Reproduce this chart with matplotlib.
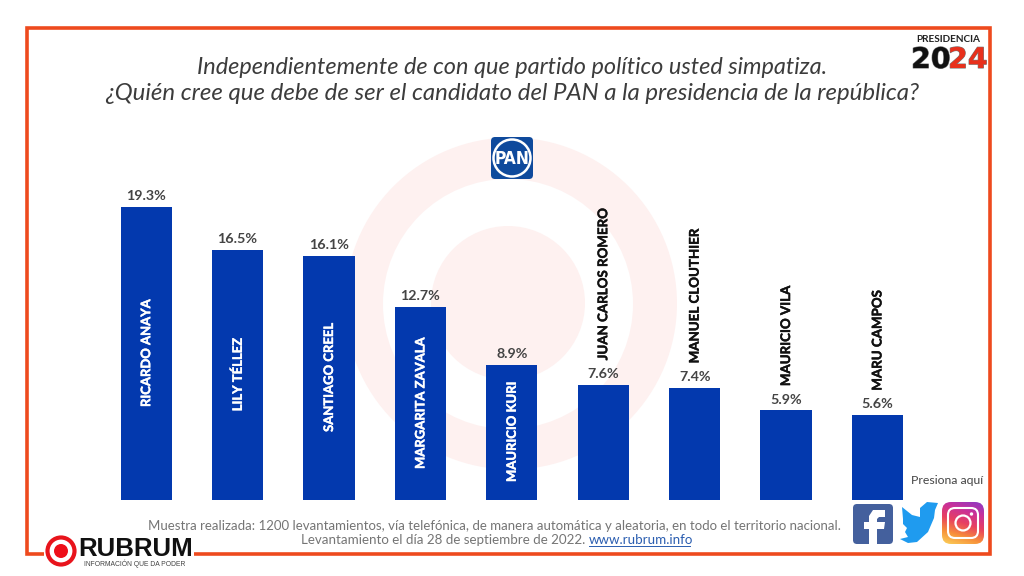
import numpy as np
import matplotlib
matplotlib.use("Agg")
import matplotlib.pyplot as plt
import matplotlib.patheffects as pe
from matplotlib.colors import LinearSegmentedColormap
from matplotlib.patches import Circle, FancyBboxPatch, Rectangle, Polygon

candidates = ["RICARDO ANAYA", "LILY TÉLLEZ", "SANTIAGO CREEL", "MARGARITA ZAVALA", "MAURICIO KURI",
              "JUAN CARLOS ROMERO", "MANUEL CLOUTHIER", "MAURICIO VILA", "MARU CAMPOS"]
values = [19.3, 16.5, 16.1, 12.7, 8.9, 7.6, 7.4, 5.9, 5.6]
inside_bar = [True, True, True, True, True, False, False, False, False]
title_lines = ["Independientemente de con que partido político usted simpatiza.",
               "¿Quién cree que debe de ser el candidato del PAN a la presidencia de la república?"]
note_1 = "Muestra realizada: 1200 levantamientos, vía telefónica, de manera automática y aleatoria, en todo el territorio nacional."
note_2 = "Levantamiento el día 28 de septiembre de 2022. "
note_link = "www.rubrum.info"

W, H = 1024, 576
BAR = "#0339ae"
ORANGE = "#ee4a1e"
plt.rcParams['font.family'] = ['Lato', 'DejaVu Sans']
fig = plt.figure(figsize=(W / 100, H / 100), dpi=100, facecolor="white")

# pixel overlay for decoration
bg = fig.add_axes([0, 0, 1, 1], zorder=0)
bg.set_xlim(0, W); bg.set_ylim(H, 0); bg.axis("off")
bg.add_patch(Circle((511, 303.5), 166, fc="#fef1f0", ec="none"))
bg.add_patch(Circle((508, 304), 125, fc="#ffffff", ec="none"))
bg.add_patch(Circle((508, 303), 77, fc="#fef1f0", ec="none"))
bg.add_patch(Rectangle((27, 28), 963, 526, fc="none", ec=ORANGE, lw=2.6))

# bars
ax = fig.add_axes([100 / W, 1 - 500 / H, 825 / W, 330 / H], zorder=2)
ax.patch.set_alpha(0); ax.axis("off")
x = list(range(len(values)))
ax.set_xlim(-0.505, 8.52)
ax.set_ylim(0, 330 / 15.18)
ax.bar(x, values, width=0.56, color=BAR)
for i, (v, n, ins) in enumerate(zip(values, candidates, inside_bar)):
    ax.annotate(f"{v}%", (i, v), xytext=(0, 3.5), textcoords="offset points", ha="center", va="bottom",
                fontsize=10.3, fontweight="bold", color="#444444")
    if ins:
        ax.annotate(n, (i, v / 2), ha="center", va="center", rotation=90, fontsize=9.4,
                    fontweight="bold", color="white",
                    path_effects=[pe.withStroke(linewidth=0.3, foreground="white")])
    else:
        ax.annotate(n, (i, v), xytext=(0, 17.5), textcoords="offset points", ha="center", va="bottom",
                    rotation=90, fontsize=9.6, fontweight="bold", color="#111111",
                    path_effects=[pe.withStroke(linewidth=0.3, foreground="#111111")])

# overlay text and logos
top = fig.add_axes([0, 0, 1, 1], zorder=3)
top.patch.set_alpha(0)
top.text(512, 68, title_lines[0], ha="center", va="center", fontsize=16.95, style="italic", color="#3c3c3c")
top.text(512, 93, title_lines[1], ha="center", va="center", fontsize=17.25, style="italic", color="#3c3c3c")
top.text(841, 526, note_1, ha="right", va="center", fontsize=9.5, color="#757575")
top.text(589, 540, note_2, ha="right", va="center", fontsize=9.6, color="#757575")
top.text(589, 540, note_link, ha="left", va="center", fontsize=9.6, color="#2a5db0")
top.plot([589, 690], [546, 546], color="#2a5db0", lw=0.7)
top.text(947, 481, "Presiona aquí", ha="center", va="center", fontsize=8.8, color="#444444")

# PAN logo
top.add_patch(FancyBboxPatch((491, 137), 42, 42, boxstyle="round,pad=0,rounding_size=4", fc="#0f4a9c", ec="none"))
top.add_patch(Circle((512, 158), 18.5, fc="none", ec="white", lw=1.8))
top.text(512, 158.5, "PAN", ha="center", va="center", fontsize=12.5, fontweight="bold", color="white",
         family="DejaVu Sans", stretch="condensed")

# PRESIDENCIA 2024
shadow = [pe.withStroke(linewidth=0.8, foreground="#777777")]
top.text(948.5, 40, "PRESIDENCIA", ha="center", va="center", fontsize=7.2, fontweight="bold", color="#222222")
top.text(911, 60, "20", ha="left", va="center", fontsize=20.5, fontweight="bold", color="#111111",
         family="DejaVu Sans", path_effects=shadow)
top.text(948, 60, "24", ha="left", va="center", fontsize=20.5, fontweight="bold", color="#e8301c",
         family="DejaVu Sans", path_effects=shadow)

# RUBRUM logo
top.add_patch(Rectangle((44, 535), 150, 31, fc="white", ec="none"))
top.add_patch(Circle((61, 551), 13.5, fc="white", ec="#e8141c", lw=3))
top.add_patch(Circle((61, 551), 7, fc="#ee0f1a", ec="none"))
top.text(78, 555.5, "RUBRUM", ha="left", va="baseline", fontsize=18.6, fontweight="bold", color="#111111", family="Liberation Sans")
top.text(84, 563.5, "INFORMACIÓN QUE DA PODER", ha="left", va="center", fontsize=4.9, color="#444444", family="Liberation Sans")

# facebook
top.add_patch(FancyBboxPatch((853, 504), 40, 40, boxstyle="round,pad=0,rounding_size=4", fc="#44609d", ec="none"))
top.add_patch(Polygon([(869, 544), (869, 529), (864, 529), (864, 522), (869, 522), (869, 516), (873, 510),
                       (885, 510), (885, 517), (879, 517), (877, 519), (877, 522), (885, 522), (884, 529),
                       (877, 529), (877, 544)], fc="white", ec="none"))

# twitter
top.add_patch(Polygon([(927, 502), (938, 503), (935, 510), (934, 518), (928, 532), (917, 542), (908, 543),
                       (900, 539), (908, 537), (905, 532), (907, 528), (903, 524), (903, 519), (902, 507),
                       (912, 515), (920, 517), (920, 508)], fc="#1f9bef", ec="none", joinstyle="round"))

# instagram
insta_box = FancyBboxPatch((942, 502), 42, 42, boxstyle="round,pad=0,rounding_size=9", fc="none", ec="none")
top.add_patch(insta_box)
yy, xx = np.mgrid[0:1:64j, 0:1:64j]
grad = np.clip(0.75 * yy + 0.25 * (1 - xx), 0, 1)
cmap = LinearSegmentedColormap.from_list("insta", ["#8a3ac8", "#c9309a", "#e8405f", "#f7903a", "#fbd25a"])
im = top.imshow(grad, extent=(942, 984, 544, 502), cmap=cmap, aspect="auto", zorder=1)
im.set_clip_path(insta_box)
top.add_patch(FancyBboxPatch((948, 508), 30, 30, boxstyle="round,pad=0,rounding_size=7", fc="none", ec="white", lw=1.5, zorder=2))
top.add_patch(Circle((963, 523), 7.5, fc="none", ec="white", lw=1.6, zorder=2))
top.add_patch(Circle((971.5, 514), 1.7, fc="white", ec="none", zorder=2))

top.set_xlim(0, W); top.set_ylim(H, 0); top.axis("off")
fig.savefig("out.png", dpi=100, facecolor="white")
